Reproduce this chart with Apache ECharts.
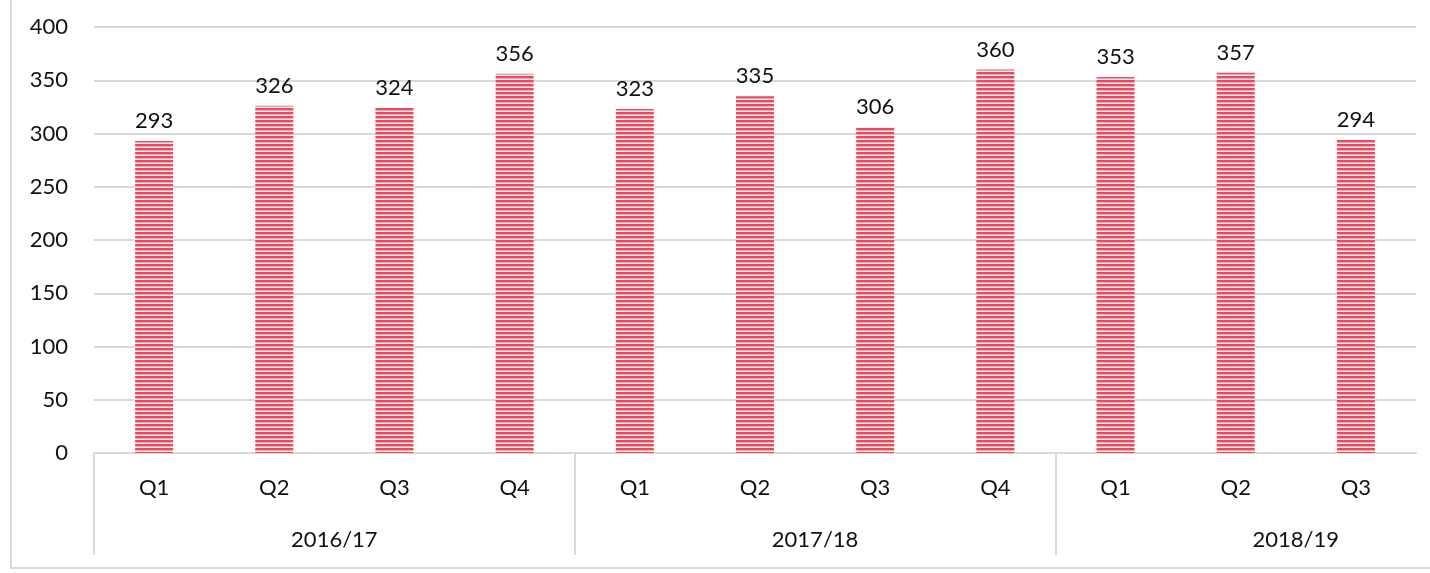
<!DOCTYPE html>
<html>
<head>
<meta charset="utf-8">
<script src="https://cdn.jsdelivr.net/npm/echarts@6/dist/echarts.min.js"></script>
<style>
html,body{margin:0;padding:0;background:#fff;}
#chart{width:1430px;height:573px;}
</style>
</head>
<body>
<div id="chart"></div>
<script>
const quarters = ['Q1','Q2','Q3','Q4','Q1','Q2','Q3','Q4','Q1','Q2','Q3'];
const values = [293,326,324,356,323,335,306,360,353,357,294];
const yearLabels = ['2016/17','2017/18','2018/19'];
const yearStarts = [0,4,8];
const yearLabelPos = [2,6,10];
const yTicks = [0,50,100,150,200,250,300,350,400];

function makePattern(){
  const c = document.createElement('canvas');
  c.width = 8; c.height = 4;
  const ctx = c.getContext('2d');
  const rows = ['#f0445a','#f14a5d','#f7a1aa','#fff3f4'];
  rows.forEach((col,i)=>{ctx.fillStyle=col;ctx.fillRect(0,i,8,1);});
  return c;
}

const FONT = 'Lato';
const chart = echarts.init(document.getElementById('chart'));
const option = {
  animation:false,
  backgroundColor:'#fff',
  graphic:[{
    type:'rect', silent:true,
    shape:{x:11,y:-10,width:1440,height:578},
    style:{fill:'none',stroke:'#d9d9d9',lineWidth:2}
  }],
  grid:{left:94,right:14,top:27,bottom:120,containLabel:false},
  xAxis:[{
    type:'category',
    data:quarters,
    boundaryGap:true,
    axisLine:{show:true,lineStyle:{color:'#d9d9d9',width:2}},
    axisTick:{show:false},
    axisLabel:{margin:24,fontFamily:FONT,fontSize:22,color:'#111'},
    splitLine:{show:false}
  },{
    type:'value',
    position:'bottom',
    min:0,max:quarters.length,
    axisLine:{show:false},
    axisTick:{show:true,customValues:yearStarts,length:102,lineStyle:{color:'#d9d9d9',width:2}},
    axisLabel:{show:true,customValues:yearLabelPos,margin:76,fontFamily:FONT,fontSize:22,color:'#111',
      formatter:function(v){const i=yearLabelPos.indexOf(v);return i>=0?yearLabels[i]:'';}},
    splitLine:{show:false}
  }],
  yAxis:{
    type:'value',
    min:yTicks[0],max:yTicks[yTicks.length-1],interval:50,
    axisLine:{show:false},
    axisTick:{show:false},
    axisLabel:{margin:26,fontFamily:FONT,fontSize:22,color:'#111'},
    splitLine:{lineStyle:{color:'#d9d9d9',width:2}}
  },
  series:[{
    type:'bar',
    xAxisIndex:0,
    data:values,
    barWidth:38,
    itemStyle:{color:{image:makePattern(),repeat:'repeat'}},
    label:{show:true,position:'top',distance:9,fontFamily:FONT,fontSize:22,color:'#111'}
  }]
};
chart.setOption(option);
</script>
</body>
</html>
